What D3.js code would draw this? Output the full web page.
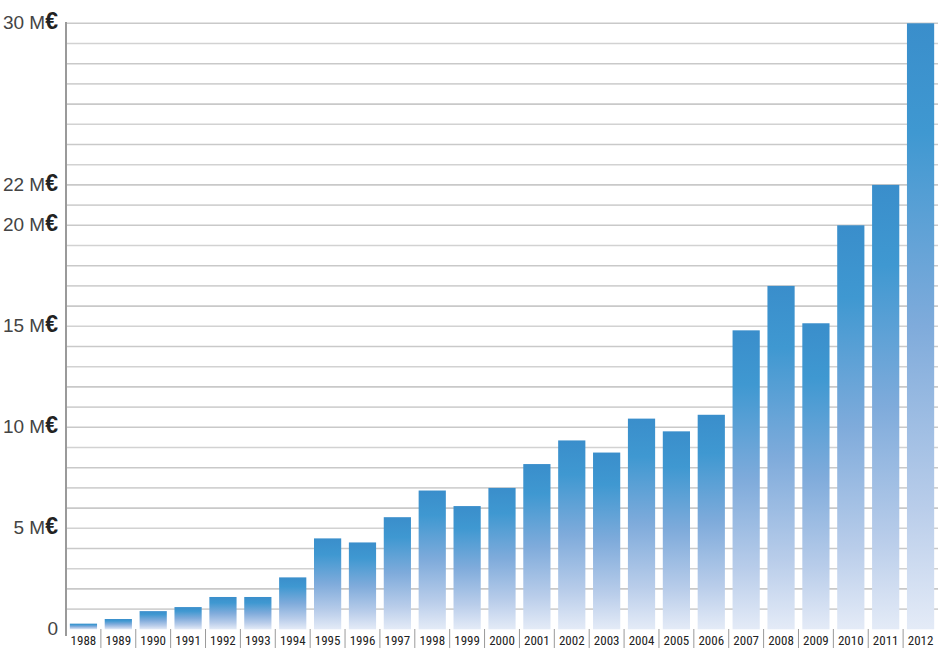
<!DOCTYPE html>
<html>
<head>
<meta charset="utf-8">
<script src="https://cdn.jsdelivr.net/npm/d3@7"></script>
<style>
  html, body { margin: 0; padding: 0; background: #fff; }
  svg { display: block; }
</style>
</head>
<body>
<svg id="chart" width="938" height="648"></svg>
<script>
const years = ["1988","1989","1990","1991","1992","1993","1994","1995","1996","1997","1998","1999","2000","2001","2002","2003","2004","2005","2006","2007","2008","2009","2010","2011","2012"];
const values = [0.28,0.51,0.9,1.1,1.6,1.6,2.57,4.5,4.3,5.55,6.87,6.1,7.0,8.18,9.35,8.75,10.43,9.8,10.62,14.8,17.0,15.15,20.0,22.0,30.0];
const yTickValues = [0, 5, 10, 15, 20, 22, 30];
const yTickLabels = ["0", "5 M", "10 M", "15 M", "20 M", "22 M", "30 M"];
const gridValues = d3.range(1, 31);

const svg = d3.select("#chart");
const left = 66, right = 938;

const x = d3.scaleBand().domain(years).range([left, right]).paddingInner(0.22).paddingOuter(0.11);
const y = d3.scaleLinear().domain([0, 30]).range([629.3, 23.3]);

// gradient per bar
const defs = svg.append("defs");
const grad = defs.append("linearGradient").attr("id", "barGrad")
  .attr("x1", 0).attr("y1", 0).attr("x2", 0).attr("y2", 1);
[[0, "#3a8ecb"], [0.18, "#3f98d1"], [0.5, "#7fabdb"], [0.8, "#b9cdea"], [1, "#e4ebf7"]]
  .forEach(([o, c]) => grad.append("stop").attr("offset", o).attr("stop-color", c));

// grid lines
svg.append("g").selectAll("line").data(gridValues).join("line")
  .attr("x1", left).attr("x2", right)
  .attr("y1", d => y(d)).attr("y2", d => y(d))
  .attr("stroke", (d, i) => i % 2 ? "#c9c9c9" : "#d2d2d2")
  .attr("stroke-width", 1.6);

// bars
svg.append("g").selectAll("rect").data(years).join("rect")
  .attr("x", d => x(d))
  .attr("width", x.bandwidth())
  .attr("y", (d, i) => y(values[i]))
  .attr("height", (d, i) => y(0) - y(values[i]))
  .attr("fill", "url(#barGrad)");

// left axis line
svg.append("line").attr("x1", left).attr("x2", left).attr("y1", 22).attr("y2", 636)
  .attr("stroke", "#9a9a9a").attr("stroke-width", 2);

// separators between categories
const seps = years.map(d => x(d) - x.step() * x.paddingInner() / 2).slice(1);
svg.append("g").selectAll("line").data(seps).join("line")
  .attr("x1", d => d).attr("x2", d => d)
  .attr("y1", 629).attr("y2", 648)
  .attr("stroke", "#9a9a9a").attr("stroke-width", 1);

// x labels
svg.append("g").selectAll("text").data(years).join("text")
  .attr("x", d => x(d) + x.bandwidth() / 2)
  .attr("y", 645)
  .attr("text-anchor", "middle")
  .attr("font-family", "'Liberation Sans Narrow', 'Roboto Condensed', 'Liberation Sans', sans-serif")
  .attr("font-size", 13)
  .attr("fill", "#222")
  .text(d => d);

// y labels
const yl = svg.append("g").selectAll("text").data(yTickValues).join("text")
  .attr("x", 58)
  .attr("y", d => y(d))
  .attr("dy", "0.35em")
  .attr("text-anchor", "end")
  .attr("font-family", "'Liberation Sans Narrow', 'Liberation Sans', sans-serif")
  .attr("fill", "#333");
yl.append("tspan").attr("font-size", 19).attr("font-weight", 300).attr("fill", "#444")
  .text((d, i) => yTickLabels[i]);
yl.filter(d => d !== 0).append("tspan")
  .attr("font-family", "'Liberation Sans', 'DejaVu Sans', sans-serif")
  .attr("font-size", 23).attr("font-weight", "bold").attr("fill", "#222")
  .text("€");
</script>
</body>
</html>
